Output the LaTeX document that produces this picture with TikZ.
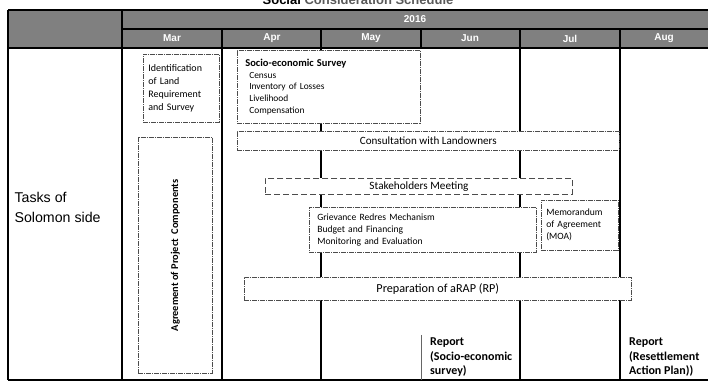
\documentclass[tikz,border=0pt]{standalone}
\usepackage{fontspec}
\setmainfont{Carlito}
\newfontfamily\arialfont{Liberation Sans}
\usetikzlibrary{positioning,calc}

\begin{document}
\begin{tikzpicture}[x=1pt,y=-1pt,
	grid/.style={black,line width=1.2pt},
	hlab/.style={text=white,font=\arialfont\bfseries\fontsize{10}{12}\selectfont},
	box/.style={draw=black!70,line width=0.6pt,fill=white,inner sep=0pt,dash pattern=on 5pt off 1pt on 1pt off 1pt},
	meet/.style={draw=black!70,line width=0.9pt,fill=white,inner sep=0pt,dash pattern=on 6pt off 3pt},
	txt/.style={font=\fontsize{9.6}{11.7}\selectfont,align=left},
	rep/.style={font=\bfseries\fontsize{12}{14.5}\selectfont,align=left,inner xsep=9pt,inner ysep=3pt,anchor=south west}]
	\useasboundingbox (0,0) rectangle (708,386);
	\node[anchor=base,font=\arialfont\bfseries\fontsize{13}{15}\selectfont] (title) at (358,4) {Social \textcolor{black!65}{Consideration Schedule}};
	\fill[black!50] (8,10) rectangle (708,48);
	\draw[grid] (8,10) -- (708,10) (122,29) -- (708,29) (8,48) -- (708,48) (8,380) -- (708,380);
	\draw[grid] (8,10) -- (8,380) (122,10) -- (122,380) (222,29) -- (222,380) (321,29) -- (321,380)
	            (421,29) -- (421,48) (520,29) -- (520,380) (620,29) -- (620,380);
	\path (415,19.5) node[hlab] (year) {2016}
	      (172,38.5) node[hlab] (mar) {Mar}
	      (272,38.5) node[hlab] (apr) {Apr}
	      (371,38.5) node[hlab] (may) {May}
	      (470,38.5) node[hlab] (jun) {Jun}
	      (570,38.5) node[hlab] (jul) {Jul}
	      (664,38.5) node[hlab] (aug) {Aug};
	\node[anchor=west,align=left,font=\arialfont\fontsize{14.2}{20}\selectfont] (tasks) at (11,207) {Tasks of\\Solomon side};
	\node[box,txt,anchor=north west,minimum width=76,minimum height=68,text width=66,inner xsep=5pt,font=\fontsize{10}{12.7}\selectfont] (ident) at (143,54)
		{Identification\\of Land\\Requirement\\and Survey};
	\node[box,anchor=north west,minimum width=183,minimum height=73,text width=167,inner xsep=8pt,align=left,font=\fontsize{9.4}{11.7}\selectfont] (socio) at (237,50)
		{{\bfseries\fontsize{10.5}{12}\selectfont Socio-economic Survey}\\
		 \hspace*{4pt}Census\\ \hspace*{4pt}Inventory of Losses\\ \hspace*{4pt}Livelihood\\ \hspace*{4pt}Compensation};
	\node[box,anchor=north west,minimum width=74,minimum height=236] (agree) at (138,137) {};
	\node[rotate=90,font=\bfseries\fontsize{10.4}{12}\selectfont] (agreetxt) at (agree.center) {Agreement of Project~ Components};
	\node[box,anchor=north west,minimum width=382,minimum height=19,font=\fontsize{11.1}{13}\selectfont] (consult) at (237,131)
		{Consultation with Landowners};
	\node[meet,anchor=north west,minimum width=307,minimum height=16,font=\fontsize{11.2}{13}\selectfont] (stake) at (265,178)
		{Stakeholders Meeting};
	\node[box,txt,anchor=north west,minimum width=227,minimum height=45,text width=211,inner xsep=8pt] (griev) at (309,207)
		{Grievance Redres Mechanism\\Budget and Financing\\Monitoring and Evaluation};
	\node[box,txt,anchor=north west,minimum width=77,minimum height=50,text width=67,inner xsep=5pt,font=\fontsize{9.6}{12}\selectfont] (moa) at (541,200)
		{Memorandum\\of Agreement\\(MOA)};
	\node[box,anchor=north west,minimum width=387,minimum height=23,font=\fontsize{12.2}{14}\selectfont] (arap) at (244,277)
		{Preparation of aRAP (RP)};
	\node[rep] (rep1) at (421,380) {Report\\(Socio-economic\\survey)};
	\node[rep] (rep2) at (620,380) {Report\\(Resettlement\\Action Plan))};
	\draw[black!60,line width=0.8pt] (rep1.north west) -- (rep1.south west);
\end{tikzpicture}
\end{document}
